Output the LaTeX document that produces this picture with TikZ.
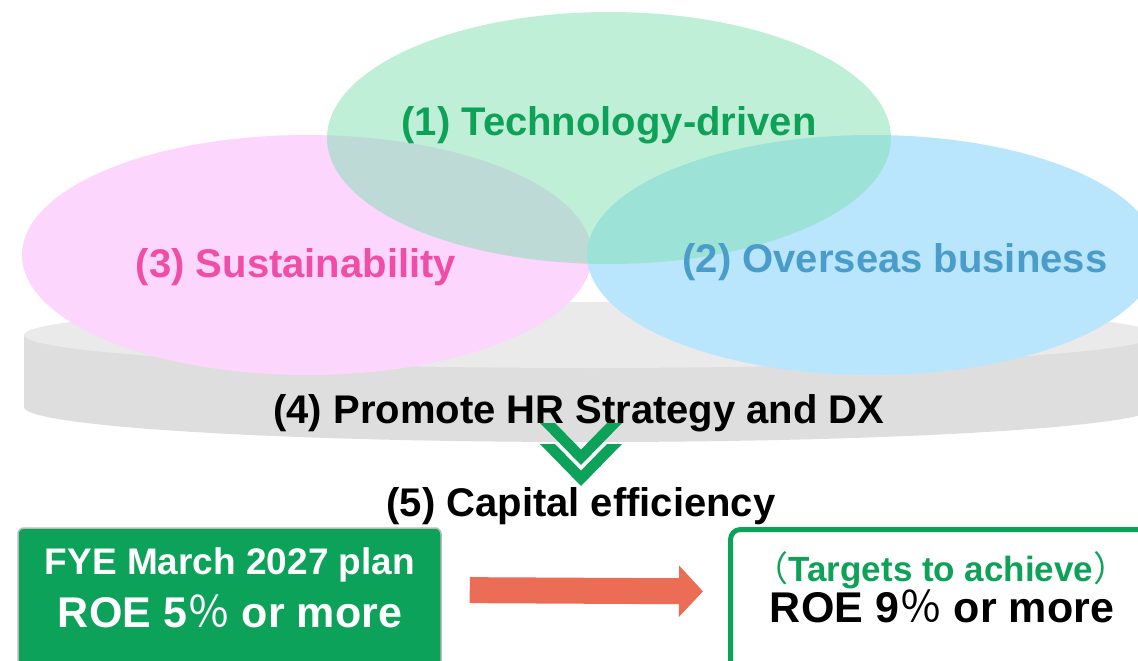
\documentclass[tikz,border=0pt]{standalone}
\usepackage{fontspec}
\setmainfont{Liberation Sans}
\newfontfamily\jpfont{Noto Sans CJK JP}
\usetikzlibrary{arrows.meta,calc}

\definecolor{topgray}{HTML}{EAEAEA}
\definecolor{sidegray}{HTML}{DEDEDE}
\definecolor{pinkfill}{HTML}{FCD6FC}
\definecolor{bluefill}{HTML}{B9E6FD}
\definecolor{greenfill}{HTML}{81DFB1}
\definecolor{techgreen}{HTML}{0DA258}
\definecolor{suspink}{HTML}{EF4DA6}
\definecolor{overblue}{HTML}{4A9DCB}
\definecolor{plangreen}{HTML}{0CA25A}
\definecolor{roeorange}{HTML}{EC6D56}

\begin{document}
\begin{tikzpicture}[x=1pt,y=-1pt,
    bigtext/.style={anchor=base,inner sep=0pt,font=\bfseries\fontsize{40}{48}\selectfont},
    boxtext/.style={anchor=base,inner sep=0pt,font=\bfseries\fontsize{#1}{#1}\selectfont},
    planbox/.style={draw=gray!55,line width=1.5pt,fill=plangreen,rounded corners=6pt,
        minimum width=423pt,minimum height=144pt,inner sep=0pt},
    targetbox/.style={draw=plangreen,line width=5pt,fill=white,rounded corners=10pt,
        minimum width=423pt,minimum height=144pt,inner sep=0pt},
    roearrow/.style={draw=roeorange,line width=26pt,-{Triangle[length=24pt,width=50pt]},
        shorten <=28pt,shorten >=25pt}]
    % 画布范围
    \useasboundingbox (0,0) rectangle (1138,661);
    \clip (0,0) rectangle (1138,661);

    % 绘制灰色底座
    \fill[sidegray] (590,407) ellipse [x radius=566, y radius=35];
    \fill[sidegray] (24,335) rectangle (1156,407);
    \fill[topgray] (590,335) ellipse [x radius=566, y radius=33];

    % 绘制三个椭圆
    \fill[pinkfill] (307,255) ellipse [x radius=285, y radius=120];
    \fill[bluefill] (872,255) ellipse [x radius=285, y radius=120];
    \fill[greenfill, fill opacity=0.5] (609,138) ellipse [x radius=282, y radius=126];

    % 添加标签
    \node[bigtext, text=techgreen] (tech) at (609,135) {(1) Technology-driven};
    \node[bigtext, text=suspink] (sus) at (296,277) {(3) Sustainability};
    \node[bigtext, text=overblue] (over) at (895,272) {(2) Overseas business};
    \node[bigtext] (hr) at (579,423) {(4) Promote HR Strategy and DX};
    \node[bigtext] (cap) at (581,516) {(5) Capital efficiency};

    % 绘制双箭头
    \foreach \dy in {0,21}
        \fill[plangreen] ($(hr.base)+(2,\dy)$) ++(-41,0) -- ++(15,0) -- ++(26,26.6)
            -- ++(26,-26.6) -- ++(15,0) -- ++(-41,42) -- cycle;

    % 绘制目标框
    \node[planbox] (plan) at (229.5,600) {};
    \node[boxtext=37, text=white] (plantop) at (230,574) {FYE March 2027 plan};
    \node[boxtext=43, text=white] (planroe) at (230,627) {ROE 5{\jpfont\mdseries ％} or more};

    \node[targetbox] (target) at (942,601.5) {};
    \node[boxtext=35, text=techgreen] (targettop) at (941,581)
        {{\jpfont\mdseries （}Targets to achieve{\jpfont\mdseries ）}};
    \node[boxtext=43] (targetroe) at (942,622) {ROE 9{\jpfont\mdseries ％} or more};

    % 绘制连接箭头
    \draw[roearrow] ([yshift=10pt]plan.east) -- ([yshift=10pt]target.west);
\end{tikzpicture}
\end{document}
